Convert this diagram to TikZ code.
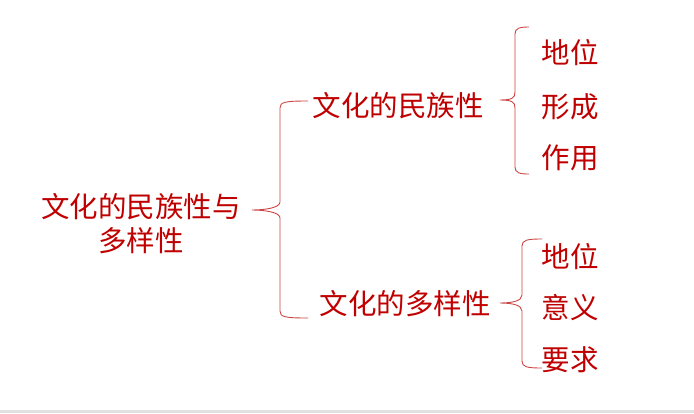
\documentclass[tikz,border=0pt]{standalone}
\usepackage{fontspec}
\newfontfamily\cjk{Noto Sans CJK SC}
\definecolor{txtred}{RGB}{192,0,0}
\definecolor{linered}{RGB}{205,70,70}
\definecolor{stripgray}{RGB}{225,225,225}
\tikzset{
  lbl/.style={text=txtred, font=\cjk\fontsize{28.5}{34}\selectfont, inner sep=0pt, align=center},
  bracestyle/.style={draw=linered, line width=0.9pt}
}
\newcommand{\drawbrace}[6]{% #1 xtip #2 ytip #3 xv #4 ytop #5 ybot #6 xend
  \draw[bracestyle] (#6,#4) .. controls (#3+5,#4) and (#3,#4+1) .. (#3,#4+7)
    -- (#3,#2-8) .. controls (#3,#2-2) and (#1+12,#2) .. (#1,#2)
    .. controls (#1+12,#2) and (#3,#2+2) .. (#3,#2+8)
    -- (#3,#5-7) .. controls (#3,#5-1) and (#3+5,#5) .. (#6,#5);}
\begin{document}
\begin{tikzpicture}[x=1pt,y=-1pt]
\useasboundingbox (0,0) rectangle (694,413);
\fill[white] (0,0) rectangle (694,413);
\fill[stripgray] (0,410) rectangle (694,413);
\node[lbl] (main) at (141,224) {文化的民族性与\\多样性};
\node[lbl] (n1) at (398,106) {文化的民族性};
\node[lbl] (n2) at (405,304) {文化的多样性};
\node[lbl] (a1) at (570,53) {地位};
\node[lbl] (a2) at (570,107) {形成};
\node[lbl] (a3) at (570,158) {作用};
\node[lbl] (b1) at (570,257) {地位};
\node[lbl] (b2) at (570,308) {意义};
\node[lbl] (b3) at (570,360) {要求};
\drawbrace{252}{210}{280}{101}{318}{308}
\drawbrace{500}{100}{515}{27}{174}{529}
\drawbrace{500}{303}{522}{239}{368}{542}
\end{tikzpicture}
\end{document}
